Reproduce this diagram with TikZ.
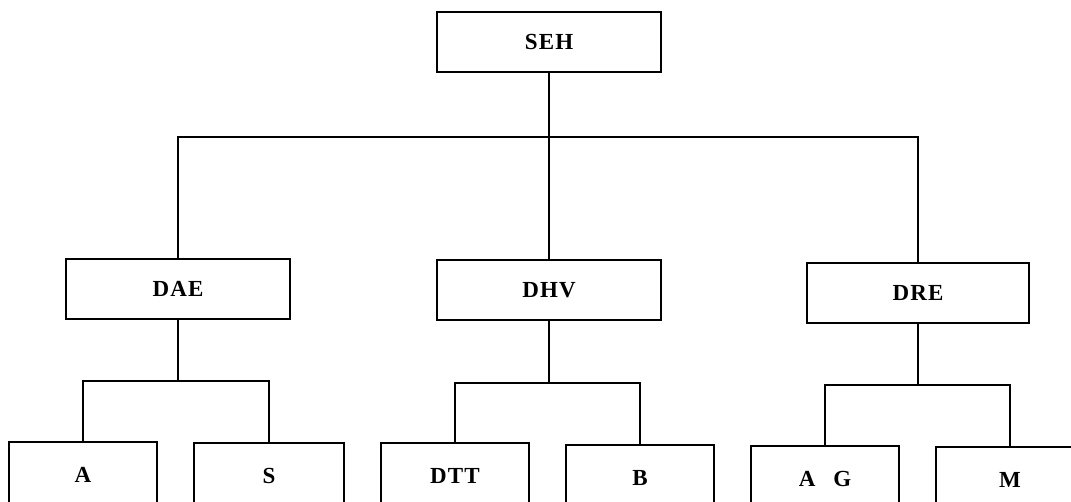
\documentclass[tikz,border=0pt]{standalone}
\usepackage{fontspec}
\setmainfont{Liberation Serif}
\newfontfamily\boxfamily{Liberation Serif}[LetterSpace=5]
\newcommand\boxfontsel{\boxfamily\bfseries\fontsize{23pt}{27pt}\selectfont}
\begin{document}
\begin{tikzpicture}[x=1pt,y=1pt,
  box/.style={draw,line width=1.6pt,rectangle,inner sep=0pt,font=\boxfontsel},
  conn/.style={line width=1.6pt}]
\clip (0,-502) rectangle (1071,0);
\fill[white] (0,-502) rectangle (1071,0);
% top level
\node[box,minimum width=224pt,minimum height=60pt] (seh) at (549,-42) {SEH};
% second level
\node[box,minimum width=224pt,minimum height=60pt] (dae) at (178,-289) {DAE};
\node[box,minimum width=224pt,minimum height=60pt] (dhv) at (549,-290) {DHV};
\node[box,minimum width=222pt,minimum height=60pt] (dre) at (918,-293) {DRE};
% third level (bottom edges run off the page)
\node[box,minimum width=148pt,minimum height=66pt] (a)   at (83,-475)  {A};
\node[box,minimum width=150pt,minimum height=66pt] (s)   at (269,-476) {S};
\node[box,minimum width=148pt,minimum height=66pt] (dtt) at (455,-476) {DTT};
\node[box,minimum width=148pt,minimum height=66pt] (b)   at (640,-478) {B};
\node[box,minimum width=148pt,minimum height=66pt] (ag)  at (825,-479) {A\hspace{18pt}G};
\node[box,minimum width=148pt,minimum height=66pt] (m)   at (1010,-480) {M};
% junction points
\coordinate (topbar) at (549,-137);
\coordinate (daebar) at (178,-381);
\coordinate (dhvbar) at (549,-383);
\coordinate (drebar) at (918,-385);
% connectors
\draw[conn] (seh.south) -- (topbar);
\draw[conn] (dae.north) |- (topbar) -| (dre.north);
\draw[conn] (topbar) -- (dhv.north);
\draw[conn] (dae.south) -- (daebar);
\draw[conn] (a.north) |- (daebar) -| (s.north);
\draw[conn] (dhv.south) -- (dhvbar);
\draw[conn] (dtt.north) |- (dhvbar) -| (b.north);
\draw[conn] (dre.south) -- (drebar);
\draw[conn] (ag.north) |- (drebar) -| (m.north);
\end{tikzpicture}
\end{document}
